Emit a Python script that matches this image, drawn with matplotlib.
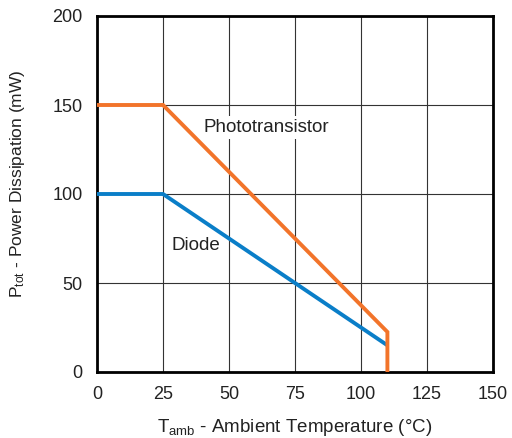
import matplotlib
matplotlib.use("Agg")
import matplotlib.pyplot as plt

plt.rcParams['font.family'] = ['Liberation Sans', 'DejaVu Sans']
plt.rcParams['mathtext.fontset'] = 'custom'
plt.rcParams['mathtext.rm'] = 'Liberation Sans'
plt.rcParams['mathtext.it'] = 'Liberation Sans'

# Derating curves: ambient temperature (°C) vs. allowed power (mW)
photo_t = [0, 25, 110, 110]
photo_p = [150, 150, 22.5, 0]
diode_t = [0, 25, 110]
diode_p = [100, 100, 15]

x_ticks = [0, 25, 50, 75, 100, 125, 150]
y_ticks = [0, 50, 100, 150, 200]

fig = plt.figure(figsize=(5.12, 4.38), dpi=100)
ax = fig.add_axes([97/512, 66/438, 396/512, 356/438])

ax.plot(diode_t, diode_p, color='#0A7EC8', lw=2.8, solid_capstyle='butt', zorder=3)
ax.plot(photo_t, photo_p, color='#F2742A', lw=2.8, solid_capstyle='butt',
        solid_joinstyle='miter', zorder=4)

ax.set_xlim(0, 150)
ax.set_ylim(0, 200)
ax.set_xticks(x_ticks)
ax.set_yticks(y_ticks)
ax.grid(True, color='#333333', lw=0.8)
ax.set_axisbelow(True)
ax.tick_params(length=0, labelsize=13, colors='#222222')
ax.tick_params(axis='x', pad=10)
ax.tick_params(axis='y', pad=10.5)
for s in ax.spines.values():
    s.set_linewidth(2)
    s.set_color('black')

ax.text(64, 137.5, 'Phototransistor', fontsize=13.5, ha='center', va='center',
        color='#222222', zorder=2,
        bbox=dict(facecolor='white', edgecolor='none', pad=2))
ax.text(37.5, 71, 'Diode', fontsize=13.5, ha='center', va='center',
        color='#222222', zorder=2,
        bbox=dict(facecolor='white', edgecolor='none', pad=2))

ax.set_xlabel(r'T$_{\mathrm{amb}}$ - Ambient Temperature (°C)', fontsize=13.5,
              color='#222222')
ax.set_ylabel(r'P$_{\mathrm{tot}}$ - Power Dissipation (mW)', fontsize=12.5,
              color='#222222')
ax.xaxis.set_label_coords(0.5, -0.125)
ax.yaxis.set_label_coords(-0.176, 0.53)

fig.savefig('out.png', dpi=100)
